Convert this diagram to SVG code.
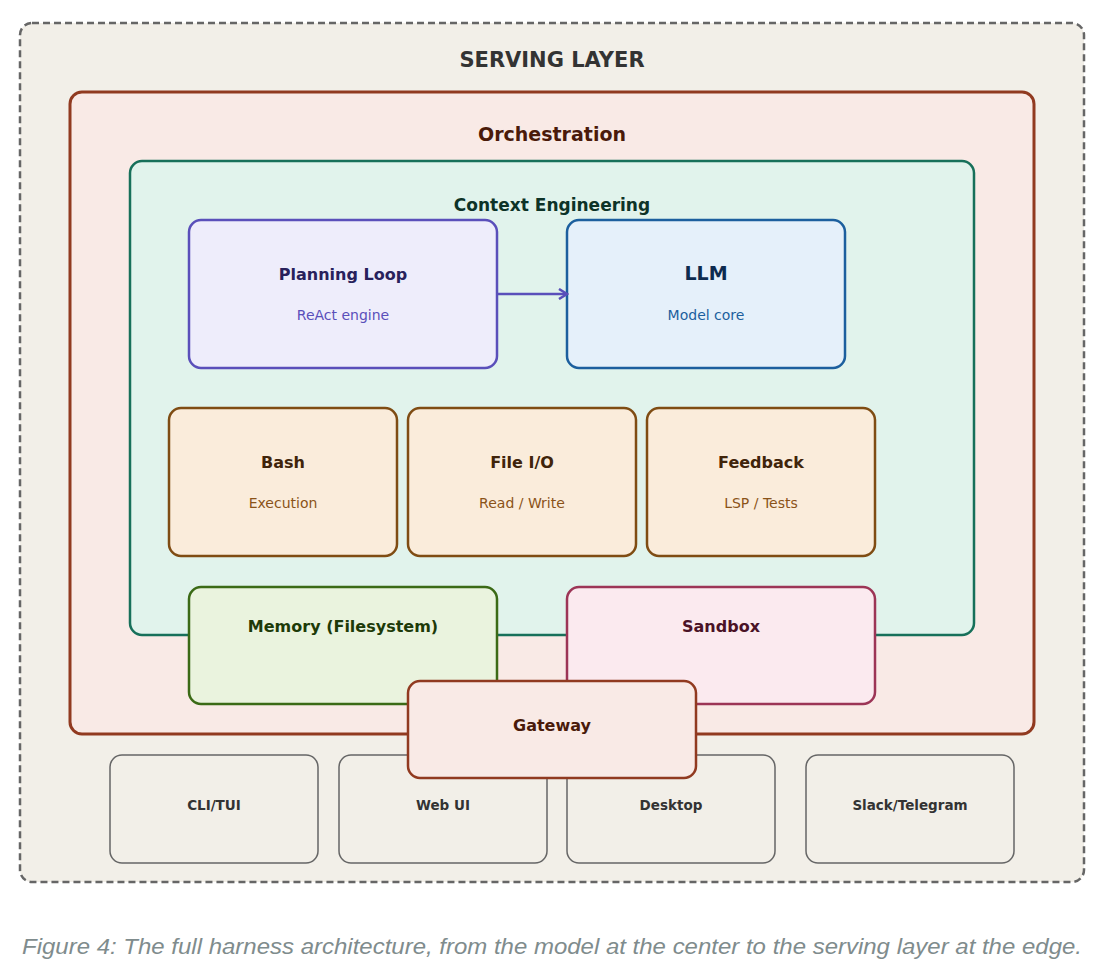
<svg xmlns="http://www.w3.org/2000/svg" width="1106" height="966" viewBox="0 0 1106 966">
<style>
text{font-family:"DejaVu Sans",sans-serif;text-anchor:middle}
.t{font-weight:bold;font-size:16px}
.s{font-size:14px}
.tool rect{fill:#faecdb;stroke:#7f4c13;stroke-width:2.5}
.tool .t{fill:#40240a}.tool .s{fill:#8a5318}
.ch rect{fill:#f2efe8;stroke:#666;stroke-width:1.5}
.ch text{font-weight:bold;font-size:13.5px;fill:#333}
.cap{font-family:"Liberation Sans",Arial,sans-serif;font-style:italic;font-size:22px;fill:#7f8c8d}
</style>
<defs><marker id="a" markerWidth="12" markerHeight="12" refX="10" refY="6" orient="auto" markerUnits="userSpaceOnUse"><path d="M2,1 L10,6 L2,11" fill="none" stroke="#5a4fba" stroke-width="2.5"/></marker></defs>
<rect width="1106" height="966" fill="#fff"/>
<g id="serving"><rect x="20" y="23" width="1064" height="859" rx="12" fill="#f2efe8" stroke="#666" stroke-width="2.5" stroke-dasharray="7,4"/><text x="552" y="67" font-size="21" font-weight="bold" fill="#333">SERVING LAYER</text></g>
<g id="orchestration"><rect x="70" y="92" width="964" height="642" rx="12" fill="#f9eae6" stroke="#913a20" stroke-width="3"/><text x="552" y="141" font-size="19" font-weight="bold" fill="#4a1a0a">Orchestration</text></g>
<g id="context"><rect x="130" y="161" width="844" height="474" rx="12" fill="#e1f3ec" stroke="#17705a" stroke-width="2.5"/><text x="552" y="211" font-size="17" font-weight="bold" fill="#0d3328">Context Engineering</text></g>
<g id="planning"><rect x="189" y="220" width="308" height="148" rx="12" fill="#eeedfb" stroke="#5a4fba" stroke-width="2.5"/><text class="t" x="343" y="280" fill="#28215c" font-size="17.5">Planning Loop</text><text class="s" x="343" y="320" fill="#5a4fba">ReAct engine</text></g>
<g id="llm"><rect x="567" y="220" width="278" height="148" rx="12" fill="#e5f0fa" stroke="#1c5f9e" stroke-width="2.5"/><text x="706" y="280" font-size="19" font-weight="bold" fill="#0d2b4f">LLM</text><text class="s" x="706" y="320" fill="#1c5f9e">Model core</text></g>
<g id="bash" class="tool"><rect x="169" y="408" width="228" height="148" rx="12"/><text class="t" x="283" y="468">Bash</text><text class="s" x="283" y="508">Execution</text></g>
<g id="fileio" class="tool"><rect x="408" y="408" width="228" height="148" rx="12"/><text class="t" x="522" y="468">File I/O</text><text class="s" x="522" y="508">Read / Write</text></g>
<g id="feedback" class="tool"><rect x="647" y="408" width="228" height="148" rx="12"/><text class="t" x="761" y="468">Feedback</text><text class="s" x="761" y="508">LSP / Tests</text></g>
<g id="memory"><rect x="189" y="587" width="308" height="117" rx="12" fill="#eaf3de" stroke="#3b6a16" stroke-width="2.5"/><text class="t" x="343" y="632" fill="#1d3a08">Memory (Filesystem)</text></g>
<g id="sandbox"><rect x="567" y="587" width="308" height="117" rx="12" fill="#fbeaef" stroke="#9c3556" stroke-width="2.5"/><text class="t" x="721" y="632" fill="#4a1226">Sandbox</text></g>
<g id="cli" class="ch"><rect x="110" y="755" width="208" height="108" rx="12"/><text x="214" y="810">CLI/TUI</text></g>
<g id="webui" class="ch"><rect x="339" y="755" width="208" height="108" rx="12"/><text x="443" y="810">Web UI</text></g>
<g id="desktop" class="ch"><rect x="567" y="755" width="208" height="108" rx="12"/><text x="671" y="810">Desktop</text></g>
<g id="slack" class="ch"><rect x="806" y="755" width="208" height="108" rx="12"/><text x="910" y="810">Slack/Telegram</text></g>
<g id="gateway"><rect x="408" y="681" width="288" height="97" rx="12" fill="#f9eae6" stroke="#913a20" stroke-width="2.5"/><text class="t" x="552" y="731" fill="#4a1a0a">Gateway</text></g>
<g id="connectors"><line x1="496" y1="294" x2="567" y2="294" stroke="#5a4fba" stroke-width="2.5" marker-end="url(#a)"/></g>
<text class="cap" x="552" y="954" textLength="1060" lengthAdjust="spacingAndGlyphs">Figure 4: The full harness architecture, from the model at the center to the serving layer at the edge.</text>
</svg>
